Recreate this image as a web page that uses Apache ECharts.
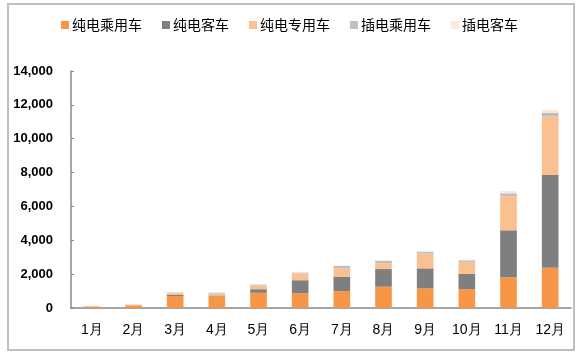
<!DOCTYPE html>
<html><head><meta charset="utf-8">
<script src="https://cdn.jsdelivr.net/npm/echarts@6/dist/echarts.min.js"></script>
<style>html,body{margin:0;padding:0;background:#fff}#c{width:579px;height:356px}</style>
</head><body><div id="c"></div>
<script>
const categories = ['1月','2月','3月','4月','5月','6月','7月','8月','9月','10月','11月','12月'];
const seriesNames = ['纯电乘用车','纯电客车','纯电专用车','插电乘用车','插电客车'];
const bevPassenger = [90, 160, 710, 690, 900, 880, 1000, 1260, 1160, 1120, 1810, 2380];
const bevBus       = [0, 0, 60, 50, 210, 760, 850, 1040, 1180, 905, 2780, 5475];
const bevSpecial   = [20, 40, 100, 120, 220, 400, 480, 340, 870, 675, 2010, 3465];
const phevPassenger= [0, 10, 50, 50, 60, 60, 150, 135, 115, 115, 175, 215];
const phevBus      = [0, 0, 20, 10, 30, 40, 40, 55, 60, 60, 135, 160];
const yTicks = [0, 2000, 4000, 6000, 8000, 10000, 12000, 14000];

const colors = ['#F79646', '#7F7F7F', '#FAC090', '#BFBFBF', '#FDE9D9'];
const values = [bevPassenger, bevBus, bevSpecial, phevPassenger, phevBus];
const font = '"Liberation Sans",sans-serif';

const chart = echarts.init(document.getElementById('c'), null, {renderer:'canvas'});
chart.setOption({
  animation: false,
  graphic: [{type:'rect', shape:{x:8, y:4, width:566, height:346}, style:{fill:'none', stroke:'#BFBFBF', lineWidth:2}, silent:true}],
  legend: {
    top: 13, left: 'center', itemWidth: 8, itemHeight: 8, itemGap: 20,
    icon: 'rect',
    textStyle: {fontFamily: '"Noto Sans CJK SC",sans-serif', fontSize: 14, color: '#000', padding:[0,0,0,-2]},
    data: seriesNames
  },
  grid: {left: 71, right: 8, top: 71, bottom: 48},
  xAxis: {
    type: 'category', data: categories,
    axisLine: {lineStyle: {color: '#888', width: 1.5}},
    axisTick: {inside: true, length: 6, lineStyle: {color: '#888'}},
    axisLabel: {interval: 0, fontFamily: font, fontSize: 14, color: '#000', margin: 15}
  },
  yAxis: {
    type: 'value', min: 0, max: 14000, interval: 2000,
    splitLine: {show: false},
    axisLine: {show: true, lineStyle: {color: '#888', width: 1.5}},
    axisTick: {show: true, inside: true, length: 3, lineStyle: {color: '#888'}},
    axisLabel: {fontFamily: font, fontSize: 13, fontWeight: 'bold', color: '#000', margin: 18,
      formatter: v => yTicks.includes(v) ? v.toLocaleString('en-US') : ''}
  },
  series: seriesNames.map((n, i) => ({
    name: n, type: 'bar', stack: 'total', data: values[i],
    barWidth: '40%', itemStyle: {color: colors[i]}
  }))
});
</script></body></html>
